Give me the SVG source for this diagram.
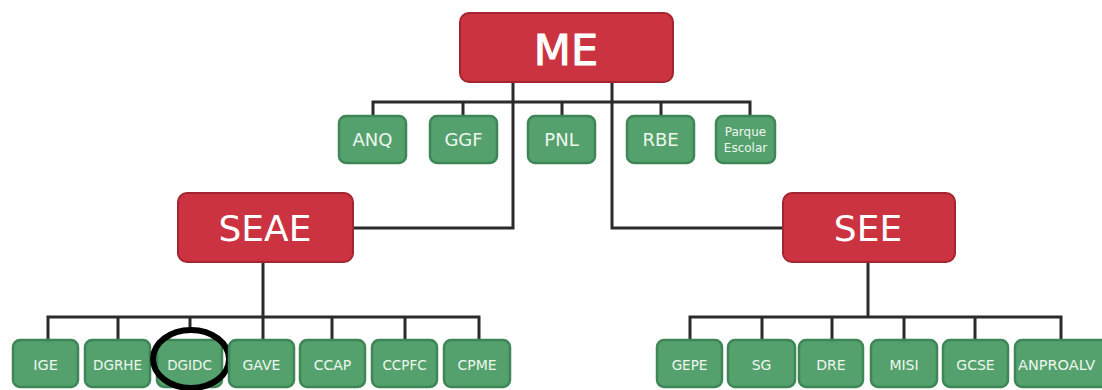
<svg xmlns="http://www.w3.org/2000/svg" width="1102" height="390" viewBox="0 0 1102 390">
<style>
.red{fill:#cc3340;stroke:#a3252f;stroke-width:2}
.grn{fill:#55a16d;stroke:#3e8656;stroke-width:2.5}
.rt{fill:#ffffff;font-family:"DejaVu Sans",sans-serif;text-anchor:middle}
.gt{fill:#eef7ef;font-family:"DejaVu Sans",sans-serif;text-anchor:middle}
.ln{fill:none;stroke:#2b2b2b;stroke-width:3;stroke-linejoin:miter}
</style>
<rect width="1102" height="390" fill="#ffffff"/>
<g id="connectors">
<path class="ln" d="M513,82 V228 H353"/>
<path class="ln" d="M612,82 V228 H783"/>
<path class="ln" stroke-width="2.5" d="M373,116 V102 H750 V116 M463,102 V116 M562,102 V116 M661,102 V116"/>
<path class="ln" stroke-width="2.5" d="M263,262 V317 M48,340 V317 H479 V340 M118,317 V340 M190,317 V330 M332,317 V340 M405,317 V340 M263,317 V340"/>
<path class="ln" stroke-width="2.5" d="M868,262 V317 M690,340 V317 H1061 V340 M762,317 V340 M832,317 V340 M904,317 V340 M975,317 V340"/>
</g>
<g id="ME"><rect class="red" x="460" y="13" width="213" height="69" rx="9"/><text class="rt" x="566" y="65" font-size="43" stroke="#ffffff" stroke-width="1">ME</text></g>
<g id="SEAE"><rect class="red" x="178" y="193" width="175" height="69" rx="9"/><text class="rt" x="265" y="241" font-size="36">SEAE</text></g>
<g id="SEE"><rect class="red" x="783" y="193" width="172" height="69" rx="9"/><text class="rt" x="868" y="241" font-size="36">SEE</text></g>
<g id="ANQ"><rect class="grn" x="339" y="116" width="67" height="47" rx="7"/><text class="gt" x="372.5" y="146" font-size="18">ANQ</text></g>
<g id="GGF"><rect class="grn" x="430" y="116" width="67" height="47" rx="7"/><text class="gt" x="463.5" y="146" font-size="18">GGF</text></g>
<g id="PNL"><rect class="grn" x="528" y="116" width="67" height="47" rx="7"/><text class="gt" x="561.5" y="146" font-size="18">PNL</text></g>
<g id="RBE"><rect class="grn" x="627" y="116" width="67" height="47" rx="7"/><text class="gt" x="660.5" y="146" font-size="18">RBE</text></g>
<g id="ParqueEscolar"><rect class="grn" x="716" y="116" width="59" height="47" rx="7"/><text class="gt" x="745.5" y="136" font-size="12">Parque</text><text class="gt" x="745.5" y="152" font-size="12">Escolar</text></g>
<g id="IGE"><rect class="grn" x="13" y="340" width="65" height="47" rx="7"/><text class="gt" x="45.5" y="370" font-size="14.5">IGE</text></g>
<g id="DGRHE"><rect class="grn" x="85" y="340" width="65" height="47" rx="7"/><text class="gt" x="117.5" y="370" font-size="13.5">DGRHE</text></g>
<g id="DGIDC"><rect class="grn" x="157" y="340" width="65" height="47" rx="7"/><text class="gt" x="189.5" y="370" font-size="13.5">DGIDC</text><ellipse cx="191" cy="359" rx="38" ry="29" fill="none" stroke="#000000" stroke-width="6"/></g>
<g id="GAVE"><rect class="grn" x="229" y="340" width="65" height="47" rx="7"/><text class="gt" x="261.5" y="370" font-size="14">GAVE</text></g>
<g id="CCAP"><rect class="grn" x="300" y="340" width="65" height="47" rx="7"/><text class="gt" x="332.5" y="370" font-size="14">CCAP</text></g>
<g id="CCPFC"><rect class="grn" x="372" y="340" width="65" height="47" rx="7"/><text class="gt" x="404.5" y="370" font-size="13.5">CCPFC</text></g>
<g id="CPME"><rect class="grn" x="444" y="340" width="66" height="47" rx="7"/><text class="gt" x="477" y="370" font-size="14">CPME</text></g>
<g id="GEPE"><rect class="grn" x="657" y="340" width="65" height="47" rx="7"/><text class="gt" x="689.5" y="370" font-size="13.5">GEPE</text></g>
<g id="SG"><rect class="grn" x="728" y="340" width="67" height="47" rx="7"/><text class="gt" x="761.5" y="370" font-size="14">SG</text></g>
<g id="DRE"><rect class="grn" x="799" y="340" width="64" height="47" rx="7"/><text class="gt" x="831" y="370" font-size="14">DRE</text></g>
<g id="MISI"><rect class="grn" x="871" y="340" width="66" height="47" rx="7"/><text class="gt" x="904" y="370" font-size="14">MISI</text></g>
<g id="GCSE"><rect class="grn" x="943" y="340" width="65" height="47" rx="7"/><text class="gt" x="975.5" y="370" font-size="14">GCSE</text></g>
<g id="ANPROALV"><rect class="grn" x="1015" y="340" width="95" height="47" rx="7"/><text class="gt" x="1018" y="370" font-size="14.5" style="text-anchor:start">ANPROALV</text></g>
</svg>
